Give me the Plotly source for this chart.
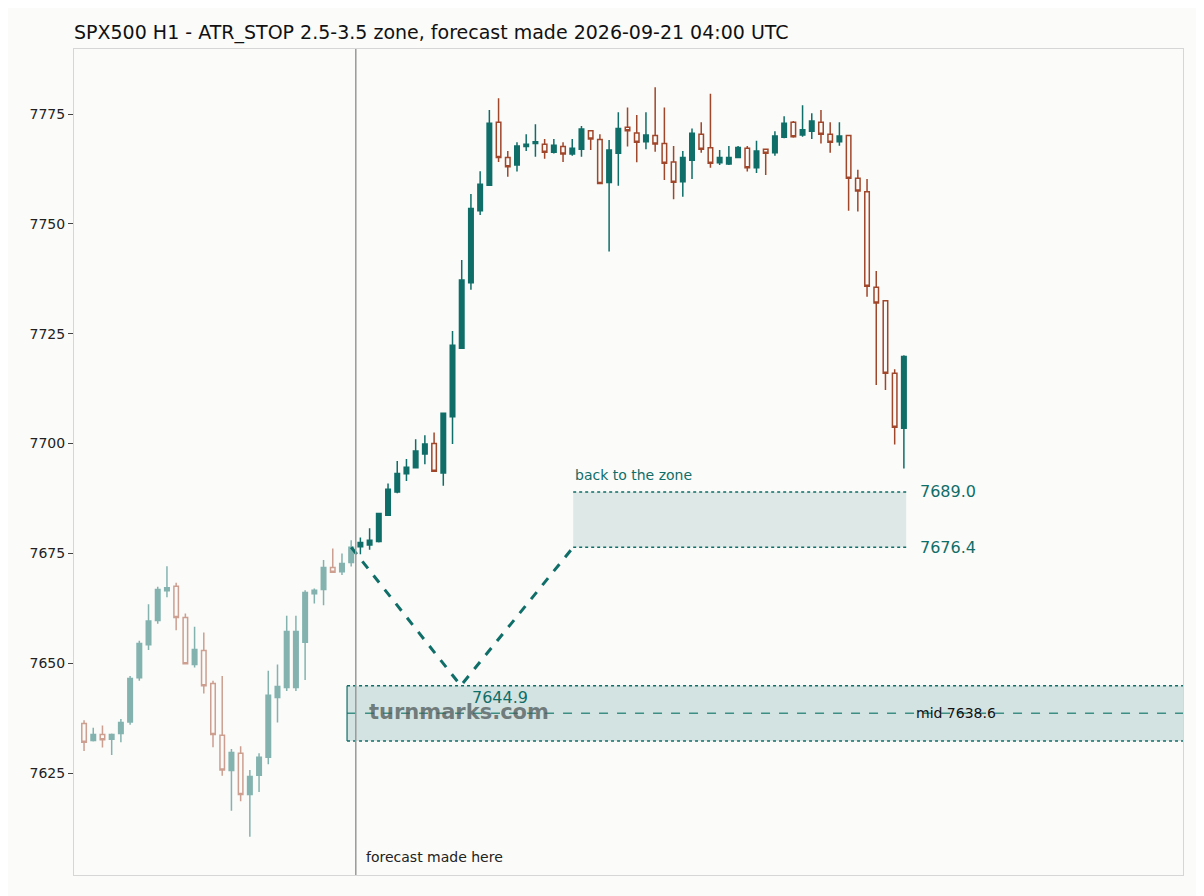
import plotly.graph_objects as go

# history candles (faded) then forecast candles
opens = [7636.3,7632.4,7633.8,7632.7,7634.0,7636.6,7646.7,7654.2,7659.7,7666.5,7667.5,7660.4,7649.7,7652.9,7645.4,7633.6,7625.6,7629.5,7620.1,7624.5,7628.6,7642.2,7644.5,7644.5,7654.8,7665.8,7666.8,7671.8,7670.8,7672.9,
         7676.5,7676.9,7677.7,7683.7,7689.0,7693.1,7694.5,7697.6,7700.0,7693.3,7706.1,7721.7,7736.6,7753.0,7758.8,7773.1,7765.1,7763.4,7767.6,7768.3,7768.1,7766.3,7767.6,7765.9,7767.0,7771.2,7769.2,7759.4,7766.1,7772.0,
         7770.7,7768.7,7770.1,7768.3,7764.1,7759.6,7764.5,7770.4,7767.3,7763.9,7763.6,7765.1,7767.2,7762.8,7767.0,7766.2,7769.7,7773.1,7770.2,7771.1,7773.1,7770.4,7768.7,7770.1,7760.4,7757.3,7735.6,7732.5,7716.0,7703.5]
highs = [7637.0,7635.3,7635.8,7634.0,7637.3,7647.1,7655.1,7663.4,7667.4,7672.1,7668.3,7661.3,7658.3,7657.0,7646.0,7647.1,7630.5,7631.1,7625.7,7629.5,7648.3,7649.7,7660.8,7660.8,7666.6,7667.0,7673.5,7676.1,7675.0,7678.0,
         7678.6,7680.7,7684.2,7690.9,7696.0,7696.5,7701.0,7701.9,7702.5,7706.9,7725.6,7741.8,7756.8,7762.0,7775.9,7778.6,7766.6,7768.6,7770.4,7772.7,7769.3,7769.3,7768.6,7769.3,7772.3,7771.2,7770.4,7769.1,7775.4,7776.5,
         7774.8,7775.4,7781.1,7776.5,7767.7,7766.6,7771.7,7773.1,7779.6,7766.8,7767.7,7767.7,7767.7,7768.9,7767.0,7771.1,7774.5,7773.4,7777.0,7775.2,7775.9,7773.1,7773.1,7770.1,7762.3,7760.2,7739.3,7732.5,7716.9,7720.1]
lows = [7630.0,7632.2,7630.8,7629.1,7632.0,7636.0,7646.0,7653.0,7659.0,7665.0,7657.5,7649.9,7649.0,7643.1,7630.9,7624.4,7616.4,7618.6,7610.5,7620.7,7627.0,7636.5,7643.7,7643.7,7646.2,7663.6,7663.2,7670.7,7670.1,7672.0,
        7674.8,7675.8,7677.5,7683.5,7688.7,7691.5,7694.4,7695.3,7693.7,7690.4,7699.9,7721.5,7735.0,7752.0,7758.8,7764.1,7760.7,7761.9,7766.6,7765.3,7764.8,7766.0,7764.1,7765.5,7765.3,7766.8,7759.2,7743.7,7758.7,7767.6,
        7764.0,7767.0,7766.4,7760.0,7755.6,7756.2,7760.2,7766.2,7762.8,7763.4,7763.4,7765.0,7761.9,7761.6,7761.1,7765.5,7769.5,7769.6,7769.8,7769.3,7768.3,7766.2,7767.8,7753.0,7752.8,7733.4,7713.3,7712.2,7699.8,7694.3]
closes = [7632.0,7633.8,7632.6,7633.8,7636.5,7646.5,7654.5,7659.6,7666.8,7667.2,7660.4,7649.9,7653.1,7644.9,7633.8,7625.7,7629.7,7620.1,7624.2,7628.6,7642.7,7644.7,7657.2,7657.2,7666.1,7666.6,7671.8,7670.7,7672.7,7676.4,
          7677.5,7678.0,7684.1,7689.6,7693.2,7694.6,7698.3,7699.9,7693.7,7706.9,7722.4,7737.2,7753.5,7759.0,7772.9,7765.1,7763.0,7767.7,7768.1,7768.7,7766.3,7767.9,7765.9,7767.2,7771.6,7769.3,7759.2,7766.8,7771.7,7771.2,
          7768.6,7770.2,7768.2,7763.8,7759.5,7765.1,7770.6,7767.0,7763.8,7765.1,7765.1,7767.4,7762.8,7766.6,7766.1,7770.0,7772.9,7769.8,7771.4,7773.4,7770.4,7768.6,7770.0,7760.4,7757.5,7735.8,7732.0,7716.0,7703.7,7719.8]
n_hist = 30
zone_low, zone_high, zone_mid = 7632.3, 7644.9, 7638.6
back_low, back_high = 7676.4, 7689.0
path_x = [29, 40.9, 53.1]
path_y = [7676.4, 7644.9, 7676.4]
yticks = [7625, 7650, 7675, 7700, 7725, 7750, 7775]

TEAL = "#0f6e68"
RUST = "#a0462a"
xs = list(range(len(opens)))

fig = go.Figure()
def cs(sl, op):
    fig.add_trace(go.Candlestick(
        x=xs[sl], open=opens[sl], high=highs[sl], low=lows[sl], close=closes[sl], opacity=op,
        increasing=dict(line=dict(color=TEAL, width=1.5), fillcolor=TEAL),
        decreasing=dict(line=dict(color=RUST, width=1.5), fillcolor="rgba(0,0,0,0)"),
        whiskerwidth=0, showlegend=False, hoverinfo="skip"))
cs(slice(0, n_hist), 0.5)
cs(slice(n_hist, None), 1.0)

X0, X1 = -1.09, 119.3
shapes = [
    dict(type="rect", x0=28.55, x1=X1, y0=zone_low, y1=zone_high, fillcolor="rgba(15,110,104,0.17)", line_width=0, layer="below"),
    dict(type="line", x0=28.55, x1=X1, y0=zone_low, y1=zone_low, line=dict(color=TEAL, width=1.5, dash="dot")),
    dict(type="line", x0=28.55, x1=X1, y0=zone_high, y1=zone_high, line=dict(color=TEAL, width=1.5, dash="dot")),
    dict(type="line", x0=28.55, x1=X1, y0=zone_mid, y1=zone_mid, line=dict(color="#3d8f84", width=1.5, dash="dash")),
    dict(type="line", x0=28.55, x1=28.55, y0=zone_low, y1=zone_high, line=dict(color=TEAL, width=1.2)),
    dict(type="rect", x0=53.1, x1=89.25, y0=back_low, y1=back_high, fillcolor="rgba(15,110,104,0.12)", line_width=0, layer="below"),
    dict(type="line", x0=53.1, x1=89.25, y0=back_low, y1=back_low, line=dict(color=TEAL, width=1.5, dash="dot")),
    dict(type="line", x0=53.1, x1=89.25, y0=back_high, y1=back_high, line=dict(color=TEAL, width=1.5, dash="dot")),
    dict(type="line", x0=29.5, x1=29.5, y0=0, y1=1, yref="paper", line=dict(color="#999999", width=1.5)),
]
fig.add_trace(go.Scatter(x=path_x, y=path_y, mode="lines", line=dict(color=TEAL, width=3, dash="dash"),
                         showlegend=False, hoverinfo="skip"))

ann = [
    dict(x=30.4, y=0.01, yref="paper", text="forecast made here", showarrow=False, xanchor="left", yanchor="bottom",
         font=dict(size=14, color="#222")),
    dict(x=53.1, y=back_high + 1.5, text="back to the zone", showarrow=False, xanchor="left", yanchor="bottom",
         font=dict(size=14, color=TEAL)),
    dict(x=90.5, y=back_high, text="7689.0", showarrow=False, xanchor="left", font=dict(size=16, color=TEAL)),
    dict(x=90.5, y=back_low, text="7676.4", showarrow=False, xanchor="left", font=dict(size=16, color=TEAL)),
    dict(x=41.9, y=zone_high, text="7644.9", showarrow=False, xanchor="left", yanchor="top", font=dict(size=16, color=TEAL)),
    dict(x=90.1, y=zone_mid, text="mid 7638.6", showarrow=False, xanchor="left", font=dict(size=14, color="#111")),
    dict(x=30.7, y=zone_mid + 0.3, text="<b>turnmarks.com</b>", showarrow=False, xanchor="left",
         font=dict(size=21, color="rgba(80,90,90,0.75)")),
]

fig.update_layout(
    width=1196, height=888, shapes=shapes, annotations=ann,
    margin=dict(l=66, r=21, t=41, b=21),
    paper_bgcolor="#fbfbf9", plot_bgcolor="#fbfbf9",
    font=dict(family="DejaVu Sans", color="#222"),
    title=dict(text="SPX500 H1 - ATR_STOP 2.5-3.5 zone, forecast made 2026-09-21 04:00 UTC",
               x=0, xref="paper", xanchor="left", y=1 - 24 / 888, yanchor="middle", font=dict(size=19, color="#111")),
    xaxis=dict(range=[X0, X1], showticklabels=False, showgrid=False, zeroline=False, rangeslider=dict(visible=False),
               showline=True, mirror=True, linecolor="#d6d6d6", ticks=""),
    yaxis=dict(range=[7601.8, 7789.8], tickvals=yticks, showgrid=False, zeroline=False, ticks="outside",
               ticklen=5, tickcolor="#444", showline=True, mirror=True, linecolor="#d6d6d6", tickfont=dict(size=14)),
)
fig.write_html("out.html")
